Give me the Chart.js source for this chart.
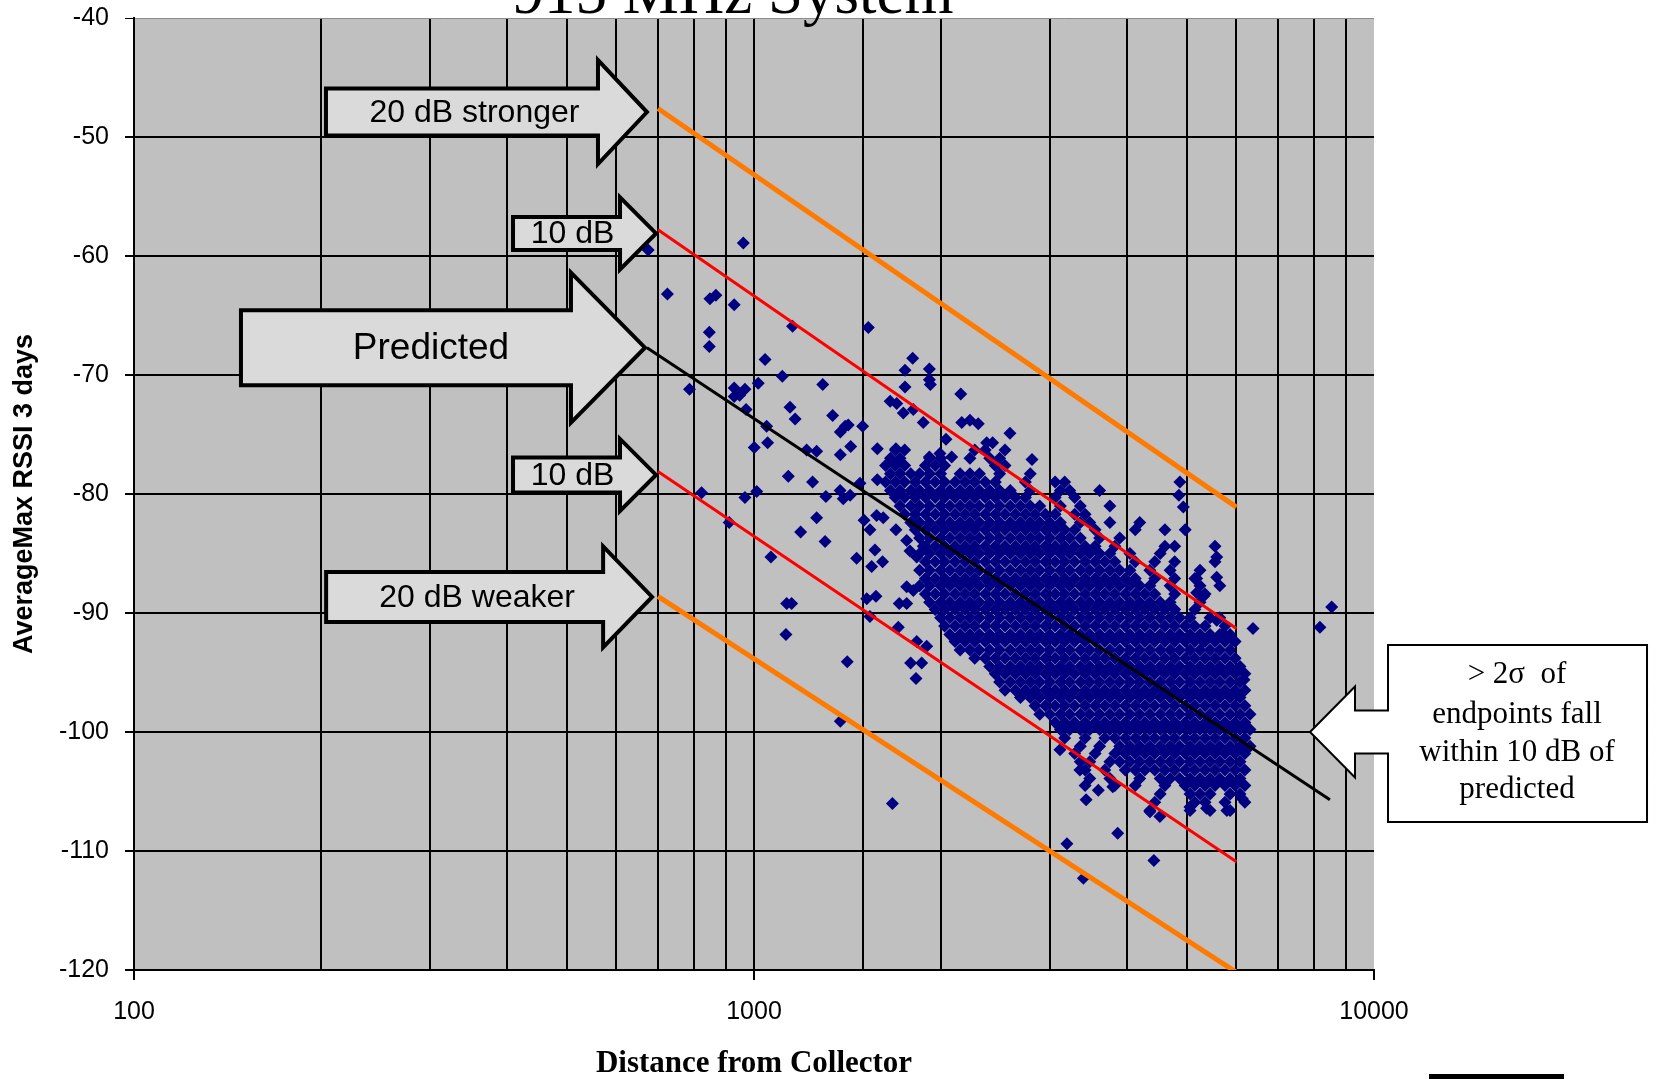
<!DOCTYPE html>
<html>
<head>
<meta charset="utf-8">
<title>915 MHz System</title>
<script src="https://cdn.jsdelivr.net/npm/chart.js@4.4.0/dist/chart.umd.min.js"></script>
<style>
  html, body { margin: 0; padding: 0; background: #fff; }
  #chart { display: block; }
</style>
</head>
<body>
<canvas id="chart" width="1657" height="1079"></canvas>
<script>
// values (x = distance, y = dB)
const xTickLabels = [100, 1000, 10000];

const predictedLine = [[672, -67.7], [8490, -105.7]];
const plus20Line = [[700, -47.6], [6000, -81.1]];
const plus10Line = [[700, -57.8], [6000, -91.3]];
const minus10Line = [[700, -78.1], [6000, -110.9]];
const minus20Line = [[700, -88.6], [6000, -120.2]];

// scattered endpoints away from the main cloud
const outlierPoints = [
  [675, -59.5], [961, -58.9], [725, -63.2], [849, -63.6], [868, -63.3], [929, -64.1],
  [1154, -65.9], [1529, -66.0], [847, -66.4], [847, -67.6], [1042, -68.7], [1803, -68.6],
  [1752, -69.6], [1918, -69.5], [1918, -70.4], [1925, -70.8], [1111, -70.1], [787, -71.2],
  [929, -71.1], [967, -71.2], [948, -71.7], [929, -71.8], [1016, -70.7], [1291, -70.8],
  [1752, -71.0], [2155, -71.6], [971, -72.9], [1143, -72.7], [1165, -73.7], [1339, -73.4],
  [1378, -74.8], [1403, -74.3], [1419, -74.2], [1497, -74.3], [1658, -72.2], [1699, -72.4],
  [1741, -73.2], [1807, -72.9], [1875, -74.0], [2163, -74.0], [2230, -73.8], [2300, -74.1],
  [2040, -75.4], [1048, -74.3], [1052, -75.7], [1001, -76.1], [1216, -76.3], [1262, -76.4],
  [1378, -76.7], [1432, -76.0], [1581, -76.2], [1694, -76.2], [2373, -75.7], [1918, -76.9],
  [1995, -76.6], [2084, -76.9],
  [2587, -74.9], [2540, -76.3], [2426, -75.7], [2808, -77.1],
  [823, -79.9], [967, -80.3], [1010, -79.8], [1136, -78.5], [1243, -79.0], [1306, -80.2],
  [1377, -79.7], [1393, -80.4], [1429, -80.1], [1482, -79.1], [1581, -78.8], [1262, -82.0],
  [1189, -83.2], [1302, -84.0], [912, -82.4], [1065, -85.3], [1464, -85.4], [1505, -82.2],
  [1538, -83.0], [1577, -81.8], [1616, -82.0], [1567, -84.7], [1548, -86.1], [1612, -85.7],
  [1694, -83.0], [1763, -83.9], [1785, -84.8], [1830, -85.3], [1875, -84.4], [1129, -89.2],
  [1150, -89.2], [1126, -91.8], [1414, -94.1], [1520, -88.8], [1573, -88.6], [1538, -90.3],
  [1709, -91.2], [1715, -89.2], [1763, -89.2], [1763, -87.8], [1807, -88.1], [1789, -94.2],
  [1864, -94.2], [1825, -95.5], [1830, -92.4], [1899, -92.8],
  [4863, -79.0], [4845, -80.1], [4925, -81.1], [5576, -85.3], [5576, -87.0], [5176, -87.1],
  [5310, -88.6], [5176, -88.3], [6380, -91.3], [8180, -91.2], [8546, -89.5], [5310, -92.4],
  [5576, -90.6], [5924, -92.3], [5710, -91.7], [6170, -95.6],
  [3433, -105.7], [3592, -104.9], [3791, -104.6], [4351, -106.7], [4515, -107.1], [5048, -106.3],
  [5370, -106.4], [5790, -106.6], [6130, -105.6], [3115, -101.5], [3355, -103.2],
  [3860, -108.5], [3197, -109.4], [4415, -110.8], [3398, -112.3], [1378, -99.1], [1672, -106.0]
];

// the dense cloud, read row by row: [dB, distances in that row]
const clusterRows = [
  [-76.3, [1690, 1750, 2270, 2360]],
  [-77.0, [1660, 1720, 1920, 2000, 2230, 2400, 2490]],
  [-77.6, [1630, 1690, 1750, 1890, 1960, 2030, 2450, 2540]],
  [-78.3, [1660, 1720, 1790, 1850, 1920, 2000, 2150, 2230, 2310, 2490, 2790]],
  [-79.0, [1630, 1690, 1750, 1820, 1890, 1960, 2030, 2110, 2190, 2270, 2360, 2450, 2740, 3060, 3170]],
  [-79.7, [1660, 1720, 1790, 1850, 1920, 2000, 2070, 2150, 2230, 2310, 2400, 2490, 2590, 2790, 3120, 3230, 3610]],
  [-80.3, [1690, 1750, 1820, 1890, 1960, 2030, 2110, 2190, 2270, 2360, 2450, 2540, 2640, 2740, 3060, 3290]],
  [-81.0, [1720, 1790, 1850, 1920, 2000, 2070, 2150, 2230, 2310, 2400, 2490, 2590, 2690, 2790, 2890, 3120, 3360, 3750]],
  [-81.7, [1750, 1820, 1890, 1960, 2030, 2110, 2190, 2270, 2360, 2450, 2540, 2640, 2740, 2840, 2950, 3060, 3290, 3420]],
  [-82.4, [1790, 1850, 1920, 2000, 2070, 2150, 2230, 2310, 2400, 2490, 2590, 2690, 2790, 2890, 3000, 3120, 3360, 3480, 3750, 4190]],
  [-83.0, [1820, 1890, 1960, 2030, 2110, 2190, 2270, 2360, 2450, 2540, 2640, 2740, 2840, 2950, 3060, 3170, 3290, 3550, 4120, 4600, 4960]],
  [-83.7, [1850, 1920, 2000, 2070, 2150, 2230, 2310, 2400, 2490, 2590, 2690, 2790, 2890, 3000, 3120, 3230, 3360, 3610, 3890]],
  [-84.4, [1890, 1960, 2030, 2110, 2190, 2270, 2360, 2450, 2540, 2640, 2740, 2840, 2950, 3060, 3170, 3290, 3420, 3550, 3820, 4600, 4770, 5540]],
  [-85.0, [1850, 1920, 2000, 2070, 2150, 2230, 2310, 2400, 2490, 2590, 2690, 2790, 2890, 3000, 3120, 3230, 3360, 3480, 3610, 3750, 4040, 4520]],
  [-85.7, [1890, 1960, 2030, 2110, 2190, 2270, 2360, 2450, 2540, 2640, 2740, 2840, 2950, 3060, 3170, 3290, 3420, 3550, 3680, 3820, 4120, 4430, 4770, 5540]],
  [-86.4, [1850, 1920, 2000, 2070, 2150, 2230, 2310, 2400, 2490, 2590, 2690, 2790, 2890, 3000, 3120, 3230, 3360, 3480, 3610, 3750, 3890, 4040, 4350, 4690, 5240]],
  [-87.1, [1890, 1960, 2030, 2110, 2190, 2270, 2360, 2450, 2540, 2640, 2740, 2840, 2950, 3060, 3170, 3290, 3420, 3550, 3680, 3820, 3970, 4120, 4430, 4770, 5140]],
  [-87.7, [1850, 1920, 2000, 2070, 2150, 2230, 2310, 2400, 2490, 2590, 2690, 2790, 2890, 3000, 3120, 3230, 3360, 3480, 3610, 3750, 3890, 4040, 4190, 4350, 4690, 5240, 5640]],
  [-88.4, [1890, 1960, 2030, 2110, 2190, 2270, 2360, 2450, 2540, 2640, 2740, 2840, 2950, 3060, 3170, 3290, 3420, 3550, 3680, 3820, 3970, 4120, 4270, 4430, 4770, 5340]],
  [-89.1, [1920, 2000, 2070, 2150, 2230, 2310, 2400, 2490, 2590, 2690, 2790, 2890, 3000, 3120, 3230, 3360, 3480, 3610, 3750, 3890, 4040, 4190, 4350, 4520, 4690, 5240]],
  [-89.7, [1960, 2030, 2110, 2190, 2270, 2360, 2450, 2540, 2640, 2740, 2840, 2950, 3060, 3170, 3290, 3420, 3550, 3680, 3820, 3970, 4120, 4270, 4430, 4600, 4770, 5140]],
  [-90.4, [2000, 2070, 2150, 2230, 2310, 2400, 2490, 2590, 2690, 2790, 2890, 3000, 3120, 3230, 3360, 3480, 3610, 3750, 3890, 4040, 4190, 4350, 4520, 4690, 4860, 5050, 5440, 5640]],
  [-91.1, [2030, 2110, 2190, 2270, 2360, 2450, 2540, 2640, 2740, 2840, 2950, 3060, 3170, 3290, 3420, 3550, 3680, 3820, 3970, 4120, 4270, 4430, 4600, 4770, 4960, 5140, 5340, 5750]],
  [-91.8, [2070, 2150, 2230, 2310, 2400, 2490, 2590, 2690, 2790, 2890, 3000, 3120, 3230, 3360, 3480, 3610, 3750, 3890, 4040, 4190, 4350, 4520, 4690, 4860, 5050, 5240, 5440, 5640, 5860]],
  [-92.4, [2110, 2190, 2270, 2360, 2450, 2540, 2640, 2740, 2840, 2950, 3060, 3170, 3290, 3420, 3550, 3680, 3820, 3970, 4120, 4270, 4430, 4600, 4770, 4960, 5140, 5340, 5540, 5750, 5970]],
  [-93.1, [2150, 2230, 2310, 2400, 2490, 2590, 2690, 2790, 2890, 3000, 3120, 3230, 3360, 3480, 3610, 3750, 3890, 4040, 4190, 4350, 4520, 4690, 4860, 5050, 5240, 5440, 5640, 5860]],
  [-93.8, [2270, 2360, 2450, 2540, 2640, 2740, 2840, 2950, 3060, 3170, 3290, 3420, 3550, 3680, 3820, 3970, 4120, 4270, 4430, 4600, 4770, 4960, 5140, 5340, 5540, 5750, 5970]],
  [-94.5, [2400, 2490, 2590, 2690, 2790, 2890, 3000, 3120, 3230, 3360, 3480, 3610, 3750, 3890, 4040, 4190, 4350, 4520, 4690, 4860, 5050, 5240, 5440, 5640, 5860, 6080]],
  [-95.1, [2450, 2540, 2640, 2740, 2840, 2950, 3060, 3170, 3290, 3420, 3550, 3680, 3820, 3970, 4120, 4270, 4430, 4600, 4770, 4960, 5140, 5340, 5540, 5750, 5970, 6190]],
  [-95.8, [2490, 2590, 2690, 2790, 2890, 3000, 3120, 3230, 3360, 3480, 3610, 3750, 3890, 4040, 4190, 4350, 4520, 4690, 4860, 5050, 5240, 5440, 5640, 5860, 6080]],
  [-96.5, [2540, 2640, 2740, 2840, 2950, 3060, 3170, 3290, 3420, 3550, 3680, 3820, 3970, 4120, 4270, 4430, 4600, 4770, 4960, 5140, 5340, 5540, 5750, 5970, 6190]],
  [-97.1, [2690, 2790, 2890, 3000, 3120, 3230, 3360, 3480, 3610, 3750, 3890, 4040, 4190, 4350, 4520, 4690, 4860, 5050, 5240, 5440, 5640, 5860, 6080]],
  [-97.8, [2840, 2950, 3060, 3170, 3290, 3420, 3550, 3680, 3820, 3970, 4120, 4270, 4430, 4600, 4770, 4960, 5140, 5340, 5540, 5750, 5970, 6190]],
  [-98.5, [2890, 3000, 3120, 3230, 3360, 3480, 3610, 3750, 3890, 4040, 4190, 4350, 4520, 4690, 4860, 5050, 5240, 5440, 5640, 5860, 6080, 6310]],
  [-99.2, [3060, 3170, 3290, 3420, 3550, 3680, 3820, 3970, 4120, 4270, 4430, 4600, 4770, 4960, 5140, 5340, 5540, 5750, 5970, 6190]],
  [-99.8, [3120, 3230, 3360, 3480, 3610, 3750, 3890, 4040, 4190, 4350, 4520, 4690, 4860, 5050, 5240, 5440, 5640, 5860, 6080, 6310]],
  [-100.5, [3170, 3420, 3680, 3820, 3970, 4120, 4270, 4430, 4600, 4770, 4960, 5140, 5340, 5540, 5750, 5970, 6190]],
  [-101.2, [3360, 3610, 3890, 4040, 4190, 4350, 4520, 4690, 4860, 5050, 5240, 5440, 5640, 5860, 6080, 6310]],
  [-101.8, [3290, 3550, 3820, 3970, 4120, 4270, 4430, 4600, 4770, 4960, 5140, 5340, 5540, 5750, 5970, 6190]],
  [-102.5, [3360, 3480, 3750, 3890, 4040, 4190, 4350, 4520, 4690, 4860, 5050, 5240, 5440, 5640, 5860, 6080]],
  [-103.2, [3420, 3680, 3970, 4120, 4270, 4430, 4600, 4770, 4960, 5140, 5340, 5540, 5750, 5970, 6190]],
  [-103.9, [3480, 3750, 4190, 4520, 4690, 4860, 5050, 5240, 5440, 5640, 5860, 6080]],
  [-104.5, [3420, 3820, 4120, 4600, 4960, 5140, 5340, 5540, 5750, 5970, 6190]],
  [-105.2, [4520, 5050, 5240, 5440, 5860, 6080]],
  [-105.9, [4430, 5140, 5340, 5750, 6190]],
  [-106.6, [4350, 5050, 5440, 5860]]
];

// block arrows on the left, tip given in data units
const arrowNotes = [
  { text: '20 dB stronger', x: 672, y: -47.9, body: 272, bodyH: 23.5, head: 49, headH: 52, size: 32 },
  { text: '10 dB', x: 695, y: -58.1, body: 107, bodyH: 16.5, head: 36, headH: 36, size: 32 },
  { text: 'Predicted', x: 667, y: -67.7, body: 330, bodyH: 37.5, head: 74, headH: 75, size: 37 },
  { text: '10 dB', x: 695, y: -78.4, body: 107, bodyH: 17.5, head: 36, headH: 36, size: 32 },
  { text: '20 dB weaker', x: 685, y: -88.65, body: 277, bodyH: 25, head: 49, headH: 50.5, size: 32 }
];

const calloutLines = ['> 2σ  of', 'endpoints fall', 'within 10 dB of', 'predicted'];
const calloutTip = [7885, -100];

const toXY = pts => pts.map(([x, y]) => ({ x, y }));
const cloudPoints = clusterRows.flatMap(([y, xs]) => xs.map(x => ({ x, y })));
const isDecade = v => Math.abs(Math.log10(v) - Math.round(Math.log10(v))) < 1e-9;

function lineSet(pts, color, width) {
  return {
    data: toXY(pts), showLine: true, borderColor: color, borderWidth: width,
    pointRadius: 0, fill: false, order: 1
  };
}

function drawBlockArrow(ctx, tx, ty, a) {
  const hx = tx - a.head;
  const bx = hx - a.body;
  ctx.beginPath();
  ctx.moveTo(bx, ty - a.bodyH);
  ctx.lineTo(hx, ty - a.bodyH);
  ctx.lineTo(hx, ty - a.headH);
  ctx.lineTo(tx, ty);
  ctx.lineTo(hx, ty + a.headH);
  ctx.lineTo(hx, ty + a.bodyH);
  ctx.lineTo(bx, ty + a.bodyH);
  ctx.closePath();
  ctx.fillStyle = '#dadada';
  ctx.fill();
  ctx.lineWidth = 4;
  ctx.lineJoin = 'miter';
  ctx.strokeStyle = '#000';
  ctx.stroke();
  ctx.fillStyle = '#000';
  ctx.font = a.size + 'px "Liberation Sans", Arial, sans-serif';
  ctx.textAlign = 'center';
  ctx.textBaseline = 'middle';
  ctx.fillText(a.text, (bx + tx) / 2 - 12, ty + 1);
}

function drawCallout(ctx, tx, ty) {
  ctx.beginPath();
  ctx.moveTo(tx, ty);
  ctx.lineTo(tx + 45, ty - 45.5);
  ctx.lineTo(tx + 45, ty - 21.5);
  ctx.lineTo(tx + 78, ty - 21.5);
  ctx.lineTo(tx + 78, ty - 87);
  ctx.lineTo(tx + 337, ty - 87);
  ctx.lineTo(tx + 337, ty + 90);
  ctx.lineTo(tx + 78, ty + 90);
  ctx.lineTo(tx + 78, ty + 21.5);
  ctx.lineTo(tx + 45, ty + 21.5);
  ctx.lineTo(tx + 45, ty + 45.5);
  ctx.closePath();
  ctx.fillStyle = '#fff';
  ctx.fill();
  ctx.lineWidth = 2;
  ctx.strokeStyle = '#000';
  ctx.stroke();
  ctx.fillStyle = '#000';
  ctx.font = '31px "Liberation Serif", "Times New Roman", serif';
  ctx.textAlign = 'center';
  ctx.textBaseline = 'middle';
  const offs = [-57, -17, 21, 58];
  calloutLines.forEach((t, i) => ctx.fillText(t, tx + 207, ty + offs[i]));
}

const decorations = {
  id: 'decorations',
  beforeDraw(chart) {
    const { ctx, chartArea: a } = chart;
    ctx.save();
    ctx.fillStyle = '#c0c0c0';
    ctx.fillRect(a.left, a.top, a.right - a.left, a.bottom - a.top);
    ctx.restore();
  },
  afterDraw(chart) {
    const { ctx } = chart;
    const xs = chart.scales.x, ys = chart.scales.y;
    ctx.save();
    // title, cut off at the top edge like the original
    ctx.fillStyle = '#000';
    ctx.font = '63px "Liberation Serif", "Times New Roman", serif';
    ctx.textAlign = 'center';
    ctx.textBaseline = 'alphabetic';
    ctx.fillText('915 MHz System', 733, 13);

    arrowNotes.forEach(a => drawBlockArrow(ctx, xs.getPixelForValue(a.x), ys.getPixelForValue(a.y), a));
    drawCallout(ctx, xs.getPixelForValue(calloutTip[0]), ys.getPixelForValue(calloutTip[1]));

    ctx.fillStyle = '#000';
    ctx.fillRect(1429, 1074, 135, 5);
    ctx.restore();
  }
};

new Chart(document.getElementById('chart'), {
  type: 'scatter',
  data: {
    datasets: [
      lineSet(predictedLine, '#000000', 3),
      lineSet(plus20Line, '#ff7a00', 5),
      lineSet(plus10Line, '#ff0000', 3),
      lineSet(minus10Line, '#ff0000', 3),
      lineSet(minus20Line, '#ff7a00', 5),
      {
        data: toXY(outlierPoints).concat(cloudPoints),
        pointStyle: 'rectRot', pointRadius: 6.5, pointHoverRadius: 6.5,
        backgroundColor: '#000080', borderWidth: 0, order: 5
      }
    ]
  },
  options: {
    responsive: false,
    devicePixelRatio: 1,
    animation: false,
    events: [],
    layout: { padding: { left: 0, right: 283, top: 18, bottom: 0 } },
    plugins: { legend: { display: false }, tooltip: { enabled: false } },
    scales: {
      x: {
        type: 'logarithmic',
        min: 100,
        max: 10000,
        afterFit: s => { s.height = 109; s.paddingLeft = 0; s.paddingRight = 0; },
        border: { color: '#000', width: 2 },
        grid: {
          lineWidth: 2,
          tickLength: 10,
          color: c => (c.tick && c.tick.value >= 10000 ? 'rgba(0,0,0,0)' : '#000'),
          tickColor: c => (c.tick && isDecade(c.tick.value) ? '#000' : 'rgba(0,0,0,0)')
        },
        ticks: {
          autoSkip: false, maxRotation: 0, minRotation: 0, padding: 17, color: '#000',
          font: { family: '"Liberation Sans", Arial, sans-serif', size: 25 },
          callback: v => (xTickLabels.some(t => Math.abs(t - v) < 1e-6) ? String(Math.round(v)) : '')
        },
        title: {
          display: true, text: 'Distance from Collector', color: '#000',
          font: { family: '"Liberation Serif", "Times New Roman", serif', size: 31, weight: 'bold', lineHeight: 1 },
          padding: { top: 0, bottom: 0 }
        }
      },
      y: {
        min: -120,
        max: -40,
        afterFit: s => { s.width = 134; s.paddingTop = 0; s.paddingBottom = 0; },
        border: { color: '#000', width: 2 },
        grid: {
          lineWidth: c => (c.tick && c.tick.value === -40 ? 1 : 2),
          tickLength: 9,
          color: c => (c.tick && c.tick.value === -40 ? '#8c8c8c' : '#000'),
          tickColor: '#000'
        },
        ticks: {
          stepSize: 10, padding: 16, color: '#000',
          font: { family: '"Liberation Sans", Arial, sans-serif', size: 25 }
        },
        title: {
          display: true, text: 'AverageMax RSSI 3 days', color: '#000',
          font: { family: '"Liberation Sans", Arial, sans-serif', size: 27, weight: 'bold' },
          padding: { top: 8, bottom: 0 }
        }
      }
    }
  },
  plugins: [decorations]
});
</script>
</body>
</html>
